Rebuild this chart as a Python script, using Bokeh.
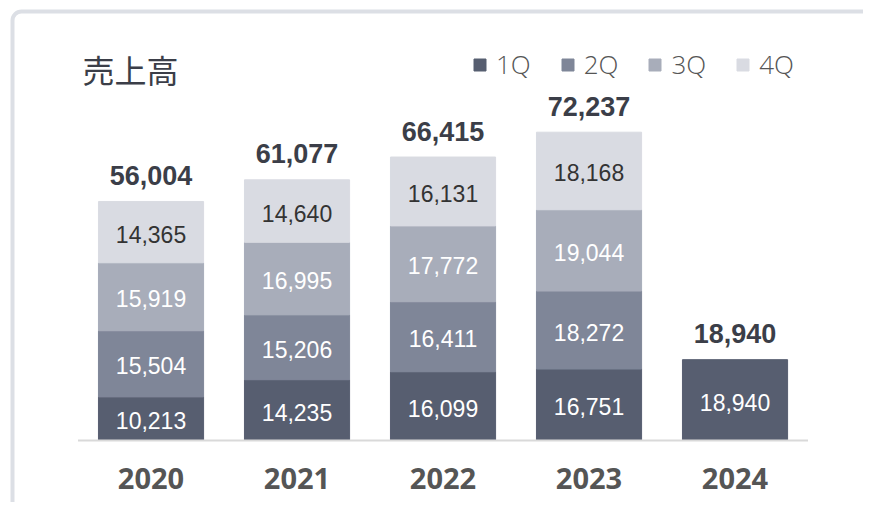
from bokeh.plotting import figure
from bokeh.models import (ColumnDataSource, Range1d, Legend, LegendItem,
                          Label, BoxAnnotation)
from bokeh.core.properties import value
from bokeh.embed import file_html
from bokeh.resources import INLINE

# ---- data ----
years = ["2020", "2021", "2022", "2023", "2024"]
quarters = ["1Q", "2Q", "3Q", "4Q"]
q1 = [10213, 14235, 16099, 16751, 18940]
q2 = [15504, 15206, 16411, 18272, None]
q3 = [15919, 16995, 17772, 19044, None]
q4 = [14365, 14640, 16131, 18168, None]
totals = [56004, 61077, 66415, 72237, 18940]

colors = ["#575e70", "#7f8698", "#a8adba", "#d9dbe2"]
label_colors = ["#ffffff", "#ffffff", "#ffffff", "#333333"]

p = figure(width=863, height=502, output_backend="svg", toolbar_location=None,
           x_range=Range1d(-1.031, 4.880), y_range=Range1d(-14527, 103090),
           min_border_left=0, min_border_right=0, min_border_top=0,
           min_border_bottom=0)
p.axis.visible = False
p.grid.visible = False
p.outline_line_color = None

# card border
card = BoxAnnotation(left=12, right=900, top=11, bottom=700,
                     left_units="canvas", right_units="canvas",
                     top_units="canvas", bottom_units="canvas",
                     fill_alpha=0, line_color="#dcdfe5", line_alpha=1,
                     line_width=4, border_radius=9, level="underlay")
p.add_layout(card)

# stacked bars
series = [q1, q2, q3, q4]
cum = [0] * len(years)
renderers = []
seg_x, seg_mid, seg_lab, seg_col = [], [], [], []
for qi, vals in enumerate(series):
    xs, bots, tops = [], [], []
    for i, v in enumerate(vals):
        if v is None:
            continue
        xs.append(i)
        bots.append(cum[i])
        tops.append(cum[i] + v)
        seg_x.append(i)
        seg_mid.append(cum[i] + v / 2)
        seg_lab.append(f"{v:,}")
        seg_col.append(label_colors[qi])
        cum[i] += v
    src = ColumnDataSource(dict(x=xs, bottom=bots, top=tops))
    r = p.vbar(x="x", bottom="bottom", top="top", width=0.72, source=src,
               fill_color=colors[qi], line_color=colors[qi], line_width=1)
    renderers.append(r)

# baseline
p.segment(x0=[-0.5], y0=[0], x1=[len(years) - 0.5], y1=[0],
          line_color="#d9d9d9", line_width=2)

# segment labels
seg_src = ColumnDataSource(dict(x=seg_x, y=seg_mid, text=seg_lab, c=seg_col))
p.text(x="x", y="y", text="text", source=seg_src, text_color="c",
       text_align="center", text_baseline="middle",
       text_font=value("Liberation Sans"), text_font_size="23px", y_offset=2)

# totals
tot_src = ColumnDataSource(dict(x=list(range(len(years))), y=cum,
                                text=[f"{t:,}" for t in totals]))
p.text(x="x", y="y", text="text", source=tot_src, text_color="#3b3e48",
       text_align="center", text_baseline="middle",
       text_font=value("Liberation Sans"), text_font_style="bold",
       text_font_size="27px", y_offset=-26)

# year labels
yr_src = ColumnDataSource(dict(x=list(range(len(years))), y=[0] * len(years),
                               text=years))
p.text(x="x", y="y", text="text", source=yr_src, text_color="#555555",
       text_align="center", text_baseline="middle",
       text_font=value("Open Sans"), text_font_style="bold",
       text_font_size="29px", y_offset=38)

# title
p.add_layout(Label(x=82, y=434, x_units="screen", y_units="screen",
                   text="売上高", text_font="Noto Sans CJK JP",
                   text_font_size="32px", text_color="#3b3e48",
                   text_baseline="middle"))

# legend
legend = Legend(items=[LegendItem(label=q, renderers=[r])
                       for q, r in zip(quarters, renderers)],
                orientation="horizontal", location=(472, 420),
                glyph_width=15, glyph_height=15, label_standoff=9,
                spacing=29, padding=0, margin=0, border_line_color=None,
                background_fill_alpha=0,
                label_text_font="Open Sans Light, Noto Sans",
                label_text_font_size="26px", label_text_color="#555555")
p.add_layout(legend)

open("out.html", "w").write(file_html(p, INLINE))
